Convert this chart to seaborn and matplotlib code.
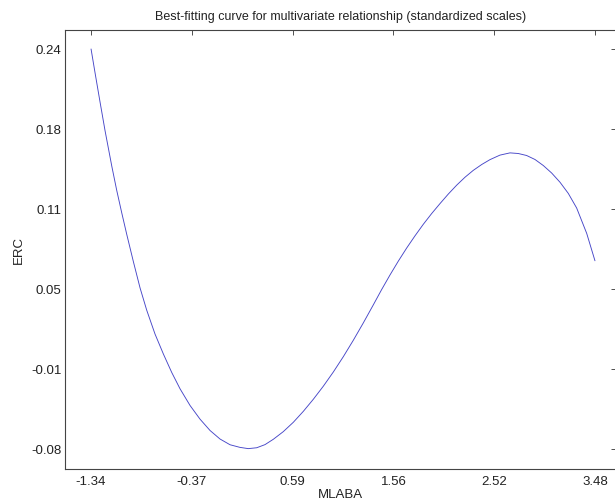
import numpy as np
import pandas as pd
import matplotlib
matplotlib.use("Agg")
import matplotlib.pyplot as plt
import seaborn as sns

# Data
mlaba = [-1.337, -1.299, -1.251, -1.203, -1.139, -1.092, -1.044, -0.996, -0.933,
         -0.869, -0.805, -0.726, -0.646, -0.566, -0.487, -0.391, -0.296, -0.200,
         -0.105, -0.009, 0.086, 0.165, 0.246, 0.325, 0.405, 0.500, 0.596, 0.691,
         0.787, 0.882, 0.978, 1.073, 1.169, 1.264, 1.360, 1.440, 1.520, 1.599,
         1.679, 1.758, 1.838, 1.918, 1.997, 2.077, 2.157, 2.236, 2.315, 2.396,
         2.475, 2.570, 2.666, 2.745, 2.825, 2.905, 2.984, 3.064, 3.144, 3.223,
         3.303, 3.399, 3.478]
erc = [0.2400, 0.2210, 0.1975, 0.1745, 0.1463, 0.1270, 0.1090, 0.0917, 0.0700,
       0.0489, 0.0310, 0.0120, -0.0040, -0.0188, -0.0318, -0.0452, -0.0561, -0.0652,
       -0.0720, -0.0766, -0.0787, -0.0797, -0.0790, -0.0765, -0.0722, -0.0661,
       -0.0586, -0.0499, -0.0402, -0.0298, -0.0184, -0.0062, 0.0070, 0.0208, 0.0353,
       0.0476, 0.0593, 0.0703, 0.0808, 0.0905, 0.0998, 0.1084, 0.1163, 0.1240,
       0.1311, 0.1374, 0.1429, 0.1476, 0.1515, 0.1551, 0.1569, 0.1564, 0.1548,
       0.1516, 0.1468, 0.1408, 0.1334, 0.1245, 0.1128, 0.0925, 0.0706]

x_tick_labels = ["-1.34", "-0.37", "0.59", "1.56", "2.52", "3.48"]
y_tick_labels = ["-0.08", "-0.01", "0.05", "0.11", "0.18", "0.24"]

title = "Best-fitting curve for multivariate relationship (standardized scales)"
x_label = "MLABA"
y_label = "ERC"

sns.set_theme(style="white")
plt.rcParams["font.family"] = ["Liberation Sans", "DejaVu Sans"]

df = pd.DataFrame({"MLABA": mlaba, "ERC": erc})

fig = plt.figure(figsize=(6.15, 5.02), dpi=100)
W, H = 615, 502
left, right, top, bottom = 65, 616, 31, 470
ax = fig.add_axes([left / W, 1 - bottom / H, (right - left) / W, (bottom - top) / H])

sns.lineplot(data=df, x="MLABA", y="ERC", ax=ax, color="#4646c8",
             linewidth=0.65, estimator=None)

ax.set_xlim(-1.586, 3.679)
ax.set_ylim(-0.096, 0.2552)

xt = np.linspace(-1.34, 3.48, len(x_tick_labels))
yt = np.linspace(-0.08, 0.24, len(y_tick_labels))
ax.set_xticks(xt)
ax.set_xticklabels(x_tick_labels)
ax.set_yticks(yt)
ax.set_yticklabels(y_tick_labels)

ax.tick_params(direction="in", top=True, right=True, length=3.5, width=0.6,
               colors="#333333", labelcolor="#222222", labelsize=9.5)
ax.tick_params(axis="x", pad=4)
ax.tick_params(axis="y", pad=2.5)

for s in ax.spines.values():
    s.set_visible(True)
    s.set_color("#444444")
    s.set_linewidth(0.8)

ax.set_title(title, fontsize=9, color="#222222", pad=8)
ax.set_xlabel(x_label, fontsize=9.5, color="#222222")
ax.set_ylabel(y_label, fontsize=9.5, color="#222222")
ax.xaxis.set_label_coords(0.5, -0.044)
ax.yaxis.set_label_coords(-0.0726, 0.5)
ax.grid(False)

fig.savefig("out.png", dpi=100)
